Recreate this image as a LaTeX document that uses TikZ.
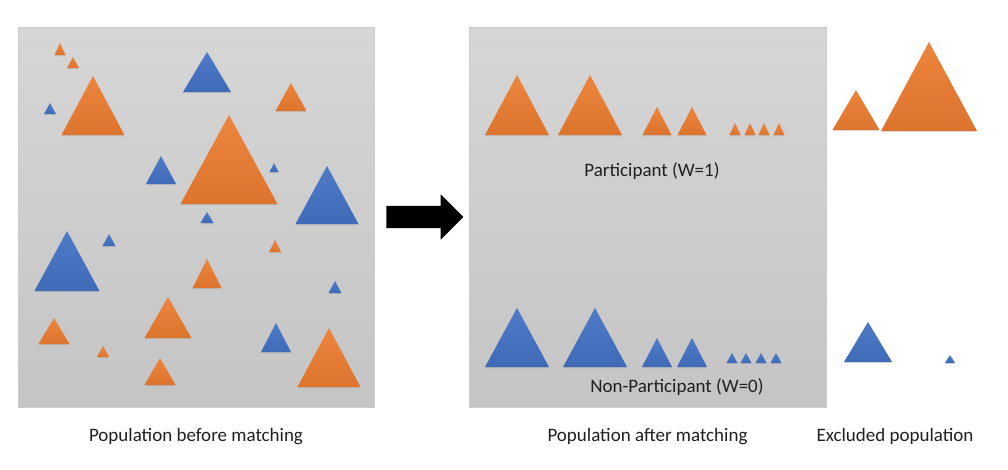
\documentclass[tikz,border=0pt]{standalone}
\usepackage{fontspec}
\setmainfont{Carlito}
\usetikzlibrary{shapes.arrows,shadows,positioning}

\definecolor{orng}{HTML}{ED7D31}
\definecolor{blu}{HTML}{4472C4}
\definecolor{txt}{HTML}{202020}

\tikzstyle{pane}=[draw=black!20, top color=black!16, bottom color=black!23, minimum width=356pt, minimum height=380pt, inner sep=0pt]
\tikzstyle{caption}=[font=\fontsize{19}{22}\selectfont, text=txt, anchor=base, inner sep=0pt]
\tikzstyle{bigarrow}=[single arrow, fill=black, minimum height=77pt, single arrow head extend=11.5pt, inner xsep=0pt, inner ysep=11pt]
\tikzstyle{treated}=[top color=orng!94!white, bottom color=orng!93!black]
\tikzstyle{control}=[top color=blu!94!white, bottom color=blu!93!black]
\tikzstyle{soft}=[drop shadow={shadow xshift=0pt, shadow yshift=-1.2pt, opacity=0.22}]

% style, centre x, base y, width, height
\newcommand{\tri}[5]{\path[#1, soft] (#2-#4/2,#3) -- (#2,#3-#5) -- (#2+#4/2,#3) -- cycle;}

\begin{document}
\begin{tikzpicture}[x=1pt, y=-1pt]
\useasboundingbox (0,0) rectangle (1008,469);

\node[pane] (before) at (196,217) {};
\node[pane, minimum width=357pt] (after) at (647.5,217) {};
\node[bigarrow, right=12pt of before] (arrow) {};

% population before matching
\tri{treated}{60}{55}{11}{12}
\tri{treated}{73}{68}{12}{11}
\tri{treated}{93}{135}{63}{59}
\tri{control}{50}{114}{12}{11}
\tri{control}{207}{92}{48}{40}
\tri{treated}{291}{111}{31}{28}
\tri{control}{161}{184}{30}{28}
\tri{treated}{229}{204}{97}{89}
\tri{control}{274}{172}{9}{9}
\tri{control}{327}{224}{63}{58}
\tri{control}{207}{223}{13}{11}
\tri{control}{67}{291}{65}{60}
\tri{control}{109}{246}{13}{12}
\tri{treated}{275}{252}{12}{12}
\tri{treated}{207}{288}{29}{29}
\tri{control}{335}{293}{13}{12}
\tri{treated}{168}{338}{47}{41}
\tri{treated}{54}{344}{31}{26}
\tri{treated}{103}{357}{12}{11}
\tri{control}{276}{352}{30}{29}
\tri{treated}{329}{387}{63}{59}
\tri{treated}{160}{385}{31}{27}

% population after matching
\tri{treated}{517}{135}{64}{60}
\tri{treated}{590}{135}{64}{60}
\tri{treated}{657}{135}{29}{28}
\tri{treated}{692}{135}{29}{28}
\foreach \x in {735,750,764,779} {\tri{treated}{\x}{135}{11}{12}}
\tri{control}{517}{367}{64}{59}
\tri{control}{595}{367}{64}{59}
\tri{control}{657}{367}{30}{29}
\tri{control}{692}{367}{30}{29}
\foreach \x in {732,746,761,776} {\tri{control}{\x}{363}{11}{10}}

% excluded
\tri{treated}{856}{130}{47}{40}
\tri{treated}{929}{131}{96}{89}
\tri{control}{868}{362}{48}{40}
\tri{control}{950}{363}{10}{8}

\node[caption] (part) at (652,176) {Participant (W=1)};
\node[caption] (nonpart) at (677,392) {Non-Participant (W=0)};
\node[caption] (lbefore) at (196,441) {Population before matching};
\node[caption] (lafter) at (647.5,441) {Population after matching};
\node[caption] (lexcl) at (895,441) {Excluded population};
\end{tikzpicture}
\end{document}
